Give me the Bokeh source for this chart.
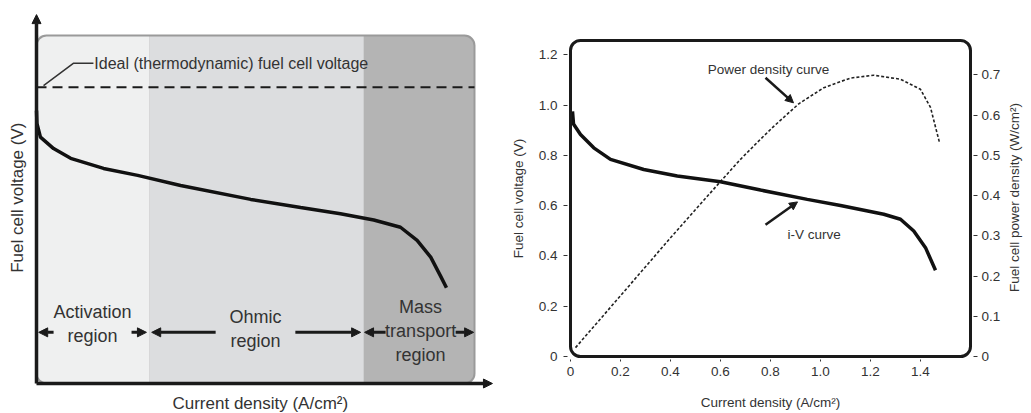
import math
from bokeh.plotting import figure
from bokeh.models import (Range1d, LinearAxis, FixedTicker, BoxAnnotation, Arrow, NormalHead,
                          PrintfTickFormatter)
from bokeh.layouts import row, column
from bokeh.embed import file_html
from bokeh.resources import INLINE
from bokeh.core.properties import value

FONT = "Liberation Sans"
TXT = "#333333"
INK = "#1a1a1a"

# ---------------- left schematic (normalized current / voltage units) ----------------
sch_current = [0.0, 0.001, 0.009, 0.039, 0.078, 0.153, 0.231, 0.329, 0.489, 0.603,
               0.694, 0.770, 0.831, 0.869, 0.900, 0.922, 0.936]
sch_voltage = [0.784, 0.747, 0.708, 0.675, 0.647, 0.618, 0.598, 0.569, 0.529, 0.506,
               0.488, 0.470, 0.449, 0.411, 0.363, 0.310, 0.275]
ideal_voltage = 0.851
region_edges = [0.0, 0.258, 0.747, 1.0]
region_colors = ["#eff0f0", "#dcdddf", "#b4b4b4"]
region_labels = ["Activation\nregion", "Ohmic\nregion", "Mass\ntransport\nregion"]
ideal_label = "Ideal (thermodynamic) fuel cell voltage"

# layout of schematic annotations (positions)
region_label_x = [0.128, 0.5, 0.877]
region_label_y = [0.172, 0.158, 0.152]
region_arrow_y = 0.147
region_arrow_tails = [0.039, 0.217, 0.409, 0.591, 0.797, 0.957]
region_arrow_heads = [0.005, 0.251, 0.263, 0.740, 0.749, 0.998]

# ---------------- right chart data ----------------
iv_current = [0.008, 0.012, 0.040, 0.093, 0.160, 0.293, 0.427, 0.600, 0.760, 0.947,
              1.080, 1.253, 1.320, 1.373, 1.420, 1.460]
iv_voltage = [0.975, 0.925, 0.883, 0.830, 0.784, 0.744, 0.718, 0.695, 0.662, 0.625,
              0.601, 0.566, 0.546, 0.499, 0.433, 0.343]
pw_current = [0.02, 0.2, 0.4, 0.6, 0.68, 0.76, 0.813, 0.913, 1.013, 1.12, 1.213,
              1.32, 1.40, 1.44, 1.475]
pw_density = [0.022, 0.151, 0.295, 0.435, 0.490, 0.540, 0.572, 0.628, 0.668, 0.692,
              0.699, 0.689, 0.664, 0.619, 0.534]
x_ticks = [0, 0.2, 0.4, 0.6, 0.8, 1.0, 1.2, 1.4]
v_ticks = [0, 0.2, 0.4, 0.6, 0.8, 1.0, 1.2]
p_ticks = [0, 0.1, 0.2, 0.3, 0.4, 0.5, 0.6, 0.7]

# ================= LEFT =================
p1 = figure(width=500, height=413, x_range=Range1d(-36 / 438, 464 / 438),
            y_range=Range1d(-30 / 348, 383 / 348), x_axis_type=None, y_axis_type=None,
            output_backend="svg", toolbar_location=None, min_border=0)
p1.outline_line_color = None
p1.background_fill_color = "white"

p1.add_layout(BoxAnnotation(left=region_edges[0], right=region_edges[-1], bottom=0, top=1,
                            fill_color=region_colors[2], fill_alpha=1, line_color=None,
                            border_radius=10, level="underlay"))
for i in range(2):
    p1.add_layout(BoxAnnotation(left=region_edges[i], right=region_edges[i + 1], bottom=0, top=1,
                                fill_color=region_colors[i], fill_alpha=1, line_color=None,
                                level="underlay"))
p1.add_layout(BoxAnnotation(left=region_edges[0], right=region_edges[-1], bottom=0, top=1,
                            fill_alpha=0, line_color="#9a9a9a", line_alpha=1, line_width=2,
                            border_radius=10, level="underlay"))

p1.line([region_edges[0], region_edges[-1]], [ideal_voltage, ideal_voltage],
        line_color=INK, line_width=2, line_dash="10 6")
p1.line(sch_current, sch_voltage, line_color="#111111", line_width=3.5)

p1.line([0.016, 0.084, 0.130], [0.856, 0.920, 0.920], line_color="#333333", line_width=1.5)
p1.text(x=[0.132], y=[0.920], text=[ideal_label], text_font=value(FONT),
        text_font_size="16px", text_color=TXT, text_align="left", text_baseline="middle")

p1.text(x=region_label_x, y=region_label_y, text=region_labels, text_font=value(FONT),
        text_font_size="18px", text_color=TXT, text_align="center", text_baseline="middle",
        text_line_height=1.2)

for xs, xe in zip(region_arrow_tails, region_arrow_heads):
    p1.add_layout(Arrow(end=NormalHead(size=9, fill_color=INK, line_color=INK),
                        x_start=xs, y_start=region_arrow_y, x_end=xe, y_end=region_arrow_y,
                        line_color=INK, line_width=3))

p1.add_layout(Arrow(end=NormalHead(size=9, fill_color=INK, line_color=INK),
                    x_start=0, y_start=0, x_end=0, y_end=1.06, line_color=INK, line_width=3.5))
p1.add_layout(Arrow(end=NormalHead(size=9, fill_color=INK, line_color=INK),
                    x_start=0, y_start=0, x_end=1.041, y_end=0, line_color=INK, line_width=3.5))

p1.text(x=[-0.043], y=[0.534], text=["Fuel cell voltage (V)"], angle=1.5708,
        text_font=value(FONT), text_font_size="17px", text_color=TXT,
        text_align="center", text_baseline="middle")
p1.text(x=[0.511], y=[-0.0575], text=["Current density (A/cm\u00b2)"],
        text_font=value(FONT), text_font_size="17px", text_color=TXT,
        text_align="center", text_baseline="middle")

# ================= RIGHT =================
X_MAX = 1.6
V_TOP = 1.257
V_PX = 251.4          # px per volt
P_PX = 402.4          # px per W/cm2
X_PX = 250.0          # px per A/cm2
PAD = 3               # px between frame edge and rounded border line
P_TOP = V_TOP * V_PX / P_PX

p2 = figure(frame_width=406, frame_height=322,
            x_range=Range1d(-PAD / X_PX, X_MAX + PAD / X_PX),
            y_range=Range1d(-PAD / V_PX, V_TOP + PAD / V_PX),
            output_backend="svg", toolbar_location=None,
            min_border_left=67, min_border_right=30, min_border_top=37, min_border_bottom=54)
p2.outline_line_color = None
p2.grid.visible = False
p2.extra_y_ranges = {"power": Range1d(-PAD / P_PX, P_TOP + PAD / P_PX)}
p2.add_layout(LinearAxis(y_range_name="power"), "right")


def style_axis(ax, ticks, label, label_standoff, standoff, tick_out=4):
    ax.ticker = FixedTicker(ticks=ticks)
    ax.formatter = PrintfTickFormatter(format="%.1f")
    ax.major_label_overrides = {0: "0"}
    ax.axis_line_color = None
    ax.major_tick_out = tick_out
    ax.major_tick_in = 0
    ax.minor_tick_out = 0
    ax.minor_tick_in = 0
    ax.major_tick_line_color = "#333333"
    ax.major_tick_line_width = 1
    ax.major_label_text_font = FONT
    ax.major_label_text_font_size = "13.5px"
    ax.major_label_text_color = TXT
    ax.major_label_standoff = label_standoff
    if label:
        ax.axis_label = label
        ax.axis_label_text_font = FONT
        ax.axis_label_text_font_size = "13.5px"
        ax.axis_label_text_font_style = "normal"
        ax.axis_label_text_color = TXT
        ax.axis_label_standoff = standoff


style_axis(p2.xaxis[0], x_ticks, "Current density (A/cm\u00b2)", 5, 16, tick_out=2)
style_axis(p2.yaxis[0], v_ticks, "Fuel cell voltage (V)", 6, 10)
style_axis(p2.yaxis[1], p_ticks, None, 4, 8)

p2.add_layout(BoxAnnotation(left=0, right=X_MAX, bottom=0, top=V_TOP, fill_alpha=0,
                            line_color=INK, line_alpha=1, line_width=3, border_radius=10))

p2.line(pw_current, pw_density, y_range_name="power", line_color="#222222",
        line_width=1.6, line_dash="3 2")
p2.line(iv_current, iv_voltage, line_color="#111111", line_width=3.5)

p2.text(x=[0.792], y=[1.143], text=["Power density curve"], text_font=value(FONT),
        text_font_size="13.5px", text_color=TXT, text_align="center", text_baseline="middle")
p2.text(x=[0.868], y=[0.484], text=["i-V curve"], text_font=value(FONT),
        text_font_size="13.5px", text_color=TXT, text_align="left", text_baseline="middle")
p2.add_layout(Arrow(end=NormalHead(size=8, fill_color=INK, line_color=INK),
                    x_start=0.78, y_start=1.109, x_end=0.892, y_end=1.009,
                    line_color=INK, line_width=2.5))
p2.add_layout(Arrow(end=NormalHead(size=8, fill_color=INK, line_color=INK),
                    x_start=0.78, y_start=0.524, x_end=0.908, y_end=0.615,
                    line_color=INK, line_width=2.5))

# ---- secondary axis title (reads bottom-to-top, as in the original) ----
p3 = figure(width=28, height=413, x_range=Range1d(0, 28), y_range=Range1d(0, 413),
            x_axis_type=None, y_axis_type=None, output_backend="svg",
            toolbar_location=None, min_border=0)
p3.outline_line_color = None
p3.grid.visible = False
p3.text(x=[11], y=[216], text=["Fuel cell power density (W/cm\u00b2)"], angle=math.pi / 2,
        text_font=value(FONT), text_font_size="13.5px", text_color=TXT,
        text_align="center", text_baseline="middle")

layout = row(column(p1), column(p2), column(p3))
open("out.html", "w").write(file_html(layout, INLINE))
